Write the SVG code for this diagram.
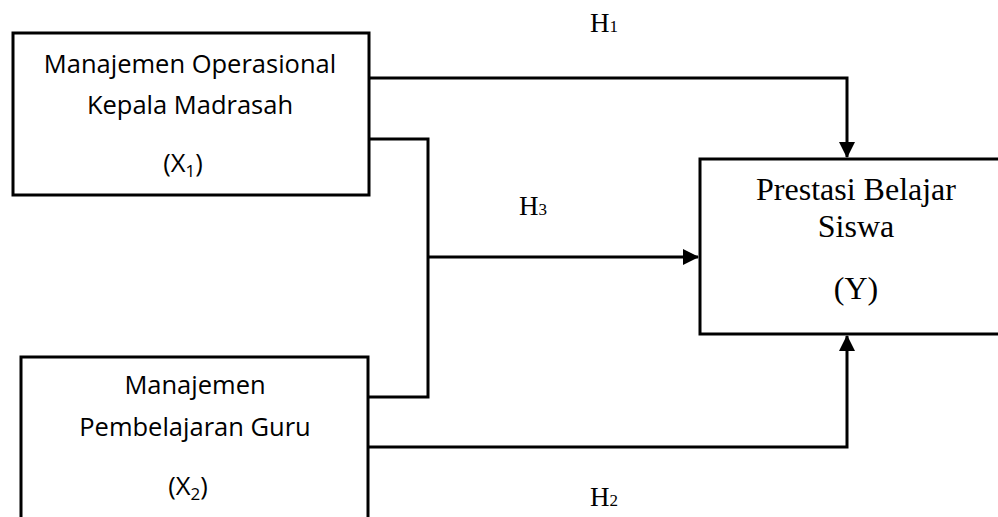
<svg xmlns="http://www.w3.org/2000/svg" width="998" height="517" viewBox="0 0 998 517">
<style>
.box{fill:#fff;stroke:#000;stroke-width:3}
.con{fill:none;stroke:#000;stroke-width:3}
.sans{font-family:"Open Sans","Liberation Sans",sans-serif;font-size:25.5px;fill:#000;text-anchor:middle}
.serif{font-family:"Liberation Serif","Times New Roman",serif;font-size:32px;fill:#000;text-anchor:middle}
.lbl{font-family:"Liberation Serif","Times New Roman",serif;font-size:27px;fill:#000}
.sub{font-size:17px}
</style>
<defs>
<marker id="arr" viewBox="0 0 16 16" refX="15" refY="8" markerWidth="16" markerHeight="16" markerUnits="userSpaceOnUse" orient="auto">
<path d="M0,0 L16,8 L0,16 z" fill="#000"/>
</marker>
</defs>
<g id="connectors">
<path class="con" d="M369,78 H847 V157" marker-end="url(#arr)"/>
<path class="con" d="M369,139 H428 V397 H369"/>
<path class="con" d="M428,257 H698" marker-end="url(#arr)"/>
<path class="con" d="M369,447 H847 V336" marker-end="url(#arr)"/>
</g>
<g id="x1">
<rect class="box" x="13" y="33" width="356" height="162"/>
<text class="sans" x="190" y="73">Manajemen Operasional</text>
<text class="sans" x="190" y="114">Kepala Madrasah</text>
<text class="sans" x="183" y="172">(X<tspan class="sub" dy="5">1</tspan><tspan dy="-5">)</tspan></text>
</g>
<g id="x2">
<rect class="box" x="21" y="357" width="347" height="200"/>
<text class="sans" x="195" y="394">Manajemen</text>
<text class="sans" x="195" y="436">Pembelajaran Guru</text>
<text class="sans" x="188" y="495">(X<tspan class="sub" dy="5">2</tspan><tspan dy="-5">)</tspan></text>
</g>
<g id="y">
<rect class="box" x="700" y="159" width="310" height="175"/>
<text class="serif" x="856" y="200">Prestasi Belajar</text>
<text class="serif" x="856" y="237">Siswa</text>
<text class="serif" x="856" y="299">(Y)</text>
</g>
<g id="labels">
<text class="lbl" x="590" y="32">H<tspan class="sub">1</tspan></text>
<text class="lbl" x="519" y="215">H<tspan class="sub">3</tspan></text>
<text class="lbl" x="590" y="506">H<tspan class="sub">2</tspan></text>
</g>
</svg>
